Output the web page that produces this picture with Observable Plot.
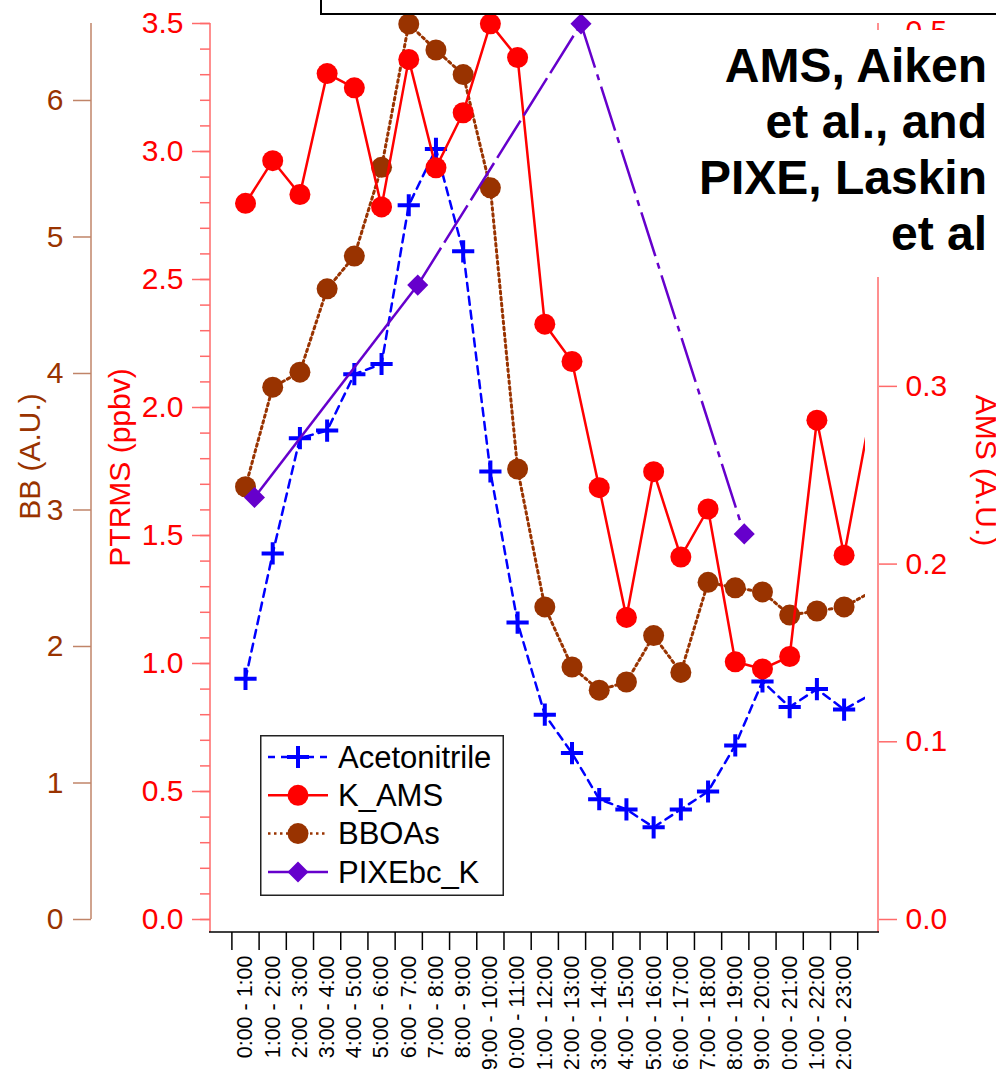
<!DOCTYPE html>
<html><head><meta charset="utf-8">
<script src="https://cdn.jsdelivr.net/npm/d3@7"></script>
<script src="https://cdn.jsdelivr.net/npm/@observablehq/plot@0.6"></script>
<style>
html,body{margin:0;padding:0;background:#fff;overflow:hidden;}
#wrap{position:relative;width:996px;height:1069px;font-family:"Liberation Sans",Arial,sans-serif;overflow:hidden;}
#topbox{position:absolute;left:320px;top:-20px;width:720px;height:31px;border:2px solid #000;background:#fff;}
#title{position:absolute;left:690px;top:30px;width:306px;height:247px;box-sizing:border-box;padding:8px 9px 0 0;background:#fff;text-align:right;font-weight:bold;font-size:48px;line-height:56px;color:#000;white-space:nowrap;}
#legend{position:absolute;left:260px;top:735px;}
</style></head><body><div id="wrap"></div>
<script>
// ---- data ----
const hourLabels = ["0:00 - 1:00","1:00 - 2:00","2:00 - 3:00","3:00 - 4:00","4:00 - 5:00","5:00 - 6:00","6:00 - 7:00","7:00 - 8:00","8:00 - 9:00","9:00 - 10:00","10:00 - 11:00","11:00 - 12:00","12:00 - 13:00","13:00 - 14:00","14:00 - 15:00","15:00 - 16:00","16:00 - 17:00","17:00 - 18:00","18:00 - 19:00","19:00 - 20:00","20:00 - 21:00","21:00 - 22:00","22:00 - 23:00"];
// PTRMS (ppbv)
const acetonitrile = [0.94,1.43,1.88,1.91,2.13,2.17,2.79,3.01,2.61,1.75,1.16,0.80,0.65,0.47,0.43,0.36,0.43,0.50,0.68,0.93,0.83,0.90,0.82,0.88];
// AMS (A.U.)
const kAMS = [0.403,0.427,0.408,0.476,0.468,0.401,0.484,0.423,0.454,0.504,0.485,0.335,0.314,0.243,0.170,0.252,0.204,0.231,0.145,0.141,0.148,0.281,0.205,0.287];
// BB (A.U.)
const bboas = [3.17,3.90,4.01,4.62,4.86,5.51,6.56,6.37,6.19,5.36,3.30,2.29,1.85,1.68,1.74,2.08,1.81,2.47,2.43,2.40,2.23,2.26,2.29,2.40];
// PIXEbc_K (AMS A.U.), at hour index positions
const pixeHour = [0.33,6.33,12.33,18.33];
const pixeK = [0.2375,0.357,0.504,0.217];
// axis ticks
const ptrmsTicks = [0,0.5,1.0,1.5,2.0,2.5,3.0,3.5];
const ptrmsMinor = d3.range(0,36).map(d=>d/10);
const bbTicks = [0,1,2,3,4,5,6];
const amsTicks = [0,0.1,0.2,0.3,0.4,0.5];
const amsHiddenLabels = [0.4]; // covered by the title box in the original
const ptrmsMax = 3.5, bbMax = 6.564, amsMax = 0.5042;

// ---- colours ----
const BLUE="#0000ff", RED="#ff0000", BROWN="#993300", PURPLE="#6600cc";
const RED_AX="#ff6a6a", BROWN_AX="#c08468";

const bbToY = b => b*ptrmsMax/bbMax;
const amsToY = a => a*ptrmsMax/amsMax;

const rows = acetonitrile.map((v,i)=>({i, ace:v, k:amsToY(kAMS[i]), bb:bbToY(bboas[i])}));
const shown = rows.filter(d=>d.i < hourLabels.length);
const pixe = pixeHour.map((h,j)=>({h, y:amsToY(pixeK[j])}));
const segs = d3.pairs(pixe).map(([a,b],j)=>({x1:a.h,y1:a.y,x2:b.h,y2:b.y,j}));
const FONT = "'Liberation Sans', Arial, sans-serif";
const amsFmt = v => { const a = +(v*amsMax/ptrmsMax).toFixed(1); return amsHiddenLabels.includes(a) ? "" : a.toFixed(1); };

const chart = Plot.plot({
  width: 996, height: 1069,
  marginLeft: 210, marginRight: 131, marginTop: 0, marginBottom: 137,
  style: {fontFamily: FONT, background: "transparent", overflow: "visible"},
  x: {type: "linear", domain: [0, 22], range: [245, 843.6]},
  y: {type: "linear", domain: [0, ptrmsMax], range: [919, 23]},
  marks: [
    // BB axis
    Plot.axisY({anchor:"left", ticks: bbTicks.map(bbToY), tickFormat: v => String(Math.round(v*bbMax/ptrmsMax)), dx: -119, tickSize: 18, tickPadding: 10, stroke: BROWN_AX, fill: BROWN, strokeWidth: 1.5, fontSize: 30, label: null}),
    // PTRMS axis
    Plot.axisY({anchor:"left", ticks: ptrmsMinor, tickFormat: () => "", tickSize: 10, stroke: RED_AX, strokeWidth: 1.5, label: null}),
    Plot.axisY({anchor:"left", ticks: ptrmsTicks, tickFormat: d => d.toFixed(1), tickSize: 18, tickPadding: 9, stroke: RED_AX, fill: RED, strokeWidth: 1.5, fontSize: 30, label: null}),
    // AMS axis
    Plot.axisY({anchor:"right", ticks: amsTicks.map(amsToY), tickFormat: amsFmt, dx: 13, tickSize: 18, tickPadding: 9, stroke: RED_AX, fill: RED, strokeWidth: 1.5, fontSize: 30, label: null}),
    // x axis: ticks between categories
    Plot.axisX({anchor:"bottom", ticks: d3.range(-0.5, hourLabels.length, 1), tickFormat: () => "", tickSize: 18, stroke: "#000", strokeWidth: 1.5, label: null}),
    // x category labels
    Plot.text(hourLabels, {x: (d,i) => i, frameAnchor: "bottom", rotate: -90, textAnchor: "end", lineAnchor: "middle", dy: 23, fontSize: 21.5, fill: "#000"}),
    // axis titles
    Plot.text(["BB (A.U.)"], {frameAnchor: "left", textAnchor: "middle", rotate: -90, dx: -180, dy: -10, fill: BROWN, fontSize: 30}),
    Plot.text(["PTRMS (ppbv)"], {frameAnchor: "left", textAnchor: "middle", rotate: -90, dx: -90, dy: 1, fill: RED, fontSize: 30}),
    Plot.text(["AMS (A.U.)"], {frameAnchor: "right", textAnchor: "middle", rotate: 90, dx: 120, dy: 4, fill: RED, fontSize: 30}),
    // Acetonitrile
    Plot.line(rows, {x: "i", y: "ace", stroke: BLUE, strokeWidth: 2.5, strokeDasharray: "8,6", clip: true}),
    Plot.dot(shown, {x: "i", y: "ace", symbol: "plus", r: 7.2, stroke: BLUE, strokeWidth: 4}),
    // BBOAs
    Plot.line(rows, {x: "i", y: "bb", stroke: BROWN, strokeWidth: 3, strokeDasharray: "2.5,3.5", clip: true}),
    Plot.dot(shown, {x: "i", y: "bb", r: 10.5, fill: BROWN}),
    // K_AMS
    Plot.line(rows, {x: "i", y: "k", stroke: RED, strokeWidth: 2.5, clip: true}),
    Plot.dot(shown, {x: "i", y: "k", r: 10.5, fill: RED}),
    // PIXEbc_K
    Plot.link(segs.filter(s=>s.j===0), {x1:"x1", y1:"y1", x2:"x2", y2:"y2", stroke: PURPLE, strokeWidth: 2.5}),
    Plot.link(segs.filter(s=>s.j===1), {x1:"x1", y1:"y1", x2:"x2", y2:"y2", stroke: PURPLE, strokeWidth: 2.5, strokeDasharray: "44,6"}),
    Plot.link(segs.filter(s=>s.j===2), {x1:"x1", y1:"y1", x2:"x2", y2:"y2", stroke: PURPLE, strokeWidth: 2.5, strokeDasharray: "46,7,6,7"}),
    Plot.dot(pixe, {x: "h", y: "y", symbol: "diamond2", r: 9.5, fill: PURPLE, stroke: "none"})
  ]
});

const wrap = document.getElementById("wrap");
wrap.appendChild(chart);

// axis lines
const svg = d3.select(chart);
const axisLines = [
  {x1:91, y1:23, x2:91, y2:919, c:BROWN_AX},
  {x1:210, y1:23, x2:210, y2:932, c:RED_AX},
  {x1:878, y1:23, x2:878, y2:932, c:RED_AX},
  {x1:209, y1:932, x2:879, y2:932, c:"#000"}
];
svg.insert("g", ":first-child").selectAll("line").data(axisLines).join("line")
  .attr("x1",d=>d.x1).attr("y1",d=>d.y1).attr("x2",d=>d.x2).attr("y2",d=>d.y2)
  .attr("stroke",d=>d.c).attr("stroke-width",1.5);

// top box & title
const topBox = document.createElement("div"); topBox.id="topbox"; wrap.appendChild(topBox);
const titleBox = document.createElement("div"); titleBox.id="title";
titleBox.innerHTML = "AMS, Aiken<br>et al., and<br>PIXE, Laskin<br>et al";
wrap.appendChild(titleBox);

// legend
const legendItems = [
  {name:"Acetonitrile", color:BLUE, dash:"7,6", sym:"plus"},
  {name:"K_AMS", color:RED, dash:null, sym:"circle"},
  {name:"BBOAs", color:BROWN, dash:"2.5,3.5", sym:"circle"},
  {name:"PIXEbc_K", color:PURPLE, dash:null, sym:"diamond"}
];
const lg = d3.select(wrap).append("div").attr("id","legend")
  .append("svg").attr("width",244).attr("height",161)
  .style("font-family", FONT);
lg.append("rect").attr("x",0.75).attr("y",0.75).attr("width",242.5).attr("height",159.5)
  .attr("fill","#fff").attr("stroke","#222").attr("stroke-width",1.5);
const it = lg.selectAll("g.item").data(legendItems).join("g")
  .attr("transform",(d,i)=>`translate(0,${22 + i*38.3})`);
it.append("line").attr("x1",8).attr("x2",68).attr("stroke",d=>d.color).attr("stroke-width",2.5)
  .attr("stroke-dasharray",d=>d.dash);
it.each(function(d){
  const g = d3.select(this);
  if (d.sym==="plus") g.append("path").attr("d","M27,0H49M38,-11V11").attr("stroke",d.color).attr("stroke-width",4);
  else if (d.sym==="circle") g.append("circle").attr("cx",38).attr("r",10.5).attr("fill",d.color);
  else g.append("path").attr("d","M38,-10.5L48.5,0L38,10.5L27.5,0Z").attr("fill",d.color);
});
it.append("text").attr("x",78).attr("y",0).attr("dy","0.35em").attr("font-size",31).attr("fill","#000").text(d=>d.name);
</script></body></html>
